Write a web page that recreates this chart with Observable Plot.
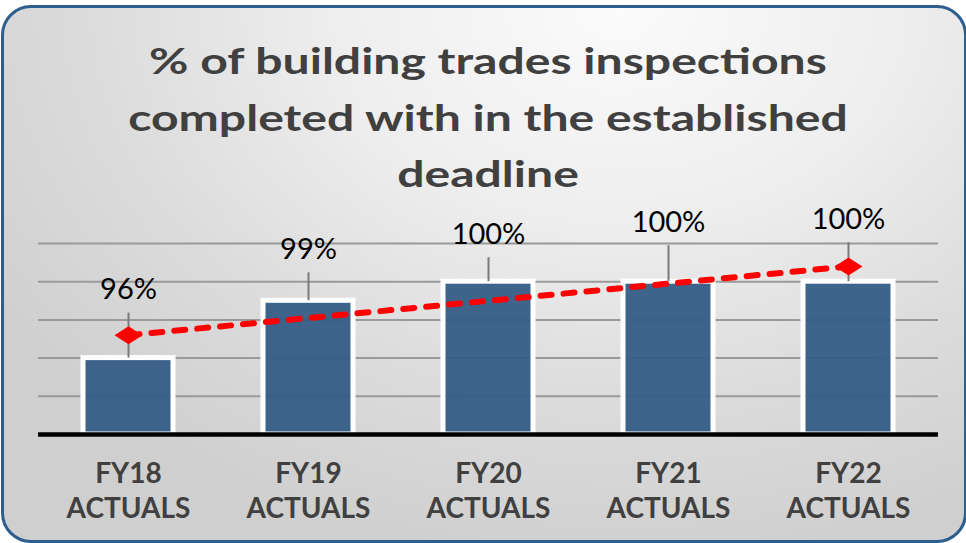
<!DOCTYPE html>
<html>
<head>
<meta charset="utf-8">
<script src="https://cdn.jsdelivr.net/npm/d3@7"></script>
<script src="https://cdn.jsdelivr.net/npm/@observablehq/plot@0.6"></script>
<style>
  html, body { margin: 0; padding: 0; background: #ffffff; }
  #page { position: relative; width: 966px; height: 543px; overflow: hidden; }
  #frame {
    position: absolute; left: 1px; top: 5px; width: 966px; height: 538px;
    box-sizing: border-box; border: 3px solid #2e5e8e; border-radius: 30px;
    background: radial-gradient(ellipse 78% 105% at 64% 0%, #fbfbfb 0%, #eeeeee 38%, #dcdcdc 70%, #cfcfcf 100%);
  }
  #title {
    position: absolute; left: 10px; top: 32px; width: 956px; text-align: center;
    font-family: Lato, "Open Sans", sans-serif; font-weight: 700; font-size: 37px;
    line-height: 56.5px; color: #404040;
    transform: scaleX(1.3); transform-origin: 478px 0;
  }
  #chart { position: absolute; left: 0; top: 200px; }
</style>
</head>
<body>
<div id="page">
  <div id="frame"></div>
  <div id="title">% of building trades inspections<br>completed with in the established<br>deadline</div>
  <div id="chart"></div>
</div>
<script>
// ---- data ----
const categories = ["FY18", "FY19", "FY20", "FY21", "FY22"];
const tickLabels = ["FY18\nACTUALS", "FY19\nACTUALS", "FY20\nACTUALS", "FY21\nACTUALS", "FY22\nACTUALS"];
const values = [96, 99, 100, 100, 100];
const valueLabels = ["96%", "99%", "100%", "100%", "100%"];
const gridTicks = [94, 96, 98, 100, 102];
const axisMin = 92;
const axisMax = 102;
const trendCategories = ["FY18", "FY22"];
const trendValues = [97.2, 100.8];

// ---- layout (px) ----
const W = 966, H = 343;
const mTop = 43, mBottom = 109, mLeft = 38, mRight = 28;
const calloutLift = [68, 51, 47, 59, 62]; // label centre above bar top
const leaderGap = 23;                      // label centre to leader top

const bars = categories.map((c, i) => ({cat: c, value: values[i], label: valueLabels[i], lift: calloutLift[i]}));
const trend = trendCategories.map((c, i) => ({cat: c, value: trendValues[i]}));

const yS = Plot.scale({y: {domain: [axisMin, axisMax], range: [H - mBottom, mTop]}});
const up = (v, px) => yS.invert(yS.apply(v) - px);

const diamond = {
  draw(ctx, size) {
    const w = 14, h = 9;
    ctx.moveTo(-w, 0); ctx.lineTo(0, -h); ctx.lineTo(w, 0); ctx.lineTo(0, h); ctx.closePath();
  }
};

const chart = Plot.plot({
  width: W, height: H,
  marginTop: mTop, marginBottom: mBottom, marginLeft: mLeft, marginRight: mRight,
  style: {background: "transparent", overflow: "visible"},
  x: {domain: categories, paddingInner: 0.5, paddingOuter: 0.25, axis: null},
  y: {domain: [axisMin, axisMax], axis: null},
  marks: [
    Plot.ruleY(gridTicks, {stroke: "#9a9a9a", strokeWidth: 2}),
    Plot.barY(bars, {x: "cat", y1: axisMin, y2: "value", fill: "#365d87", fillOpacity: 0.95, stroke: "#ffffff", strokeWidth: 5}),
    Plot.ruleX(bars, {x: "cat", y1: d => up(d.value, d.lift - leaderGap), y2: "value", stroke: "#7a7a7a", strokeWidth: 2}),
    Plot.ruleY([axisMin], {stroke: "#000000", strokeWidth: 4.5}),
    Plot.line(trend, {x: "cat", y: "value", stroke: "#ff0000", strokeWidth: 6, strokeDasharray: "11 12", strokeLinecap: "round"}),
    Plot.dot(trend, {x: "cat", y: "value", symbol: diamond, fill: "#ff0000", stroke: "none", r: 8}),
    Plot.text(bars, {x: "cat", y: d => up(d.value, d.lift), text: "label", fontSize: 29, fontFamily: "Lato, 'Open Sans', sans-serif", fill: "#000000"}),
    Plot.text(categories, {x: d => d, frameAnchor: "bottom", text: (d, i) => tickLabels[i], lineAnchor: "top", dy: 24, lineHeight: 1.25, fontSize: 28, fontWeight: "bold", fontFamily: "Lato, 'Open Sans', sans-serif", fill: "#404040"})
  ]
});
document.getElementById("chart").appendChild(chart);
</script>
</body>
</html>
